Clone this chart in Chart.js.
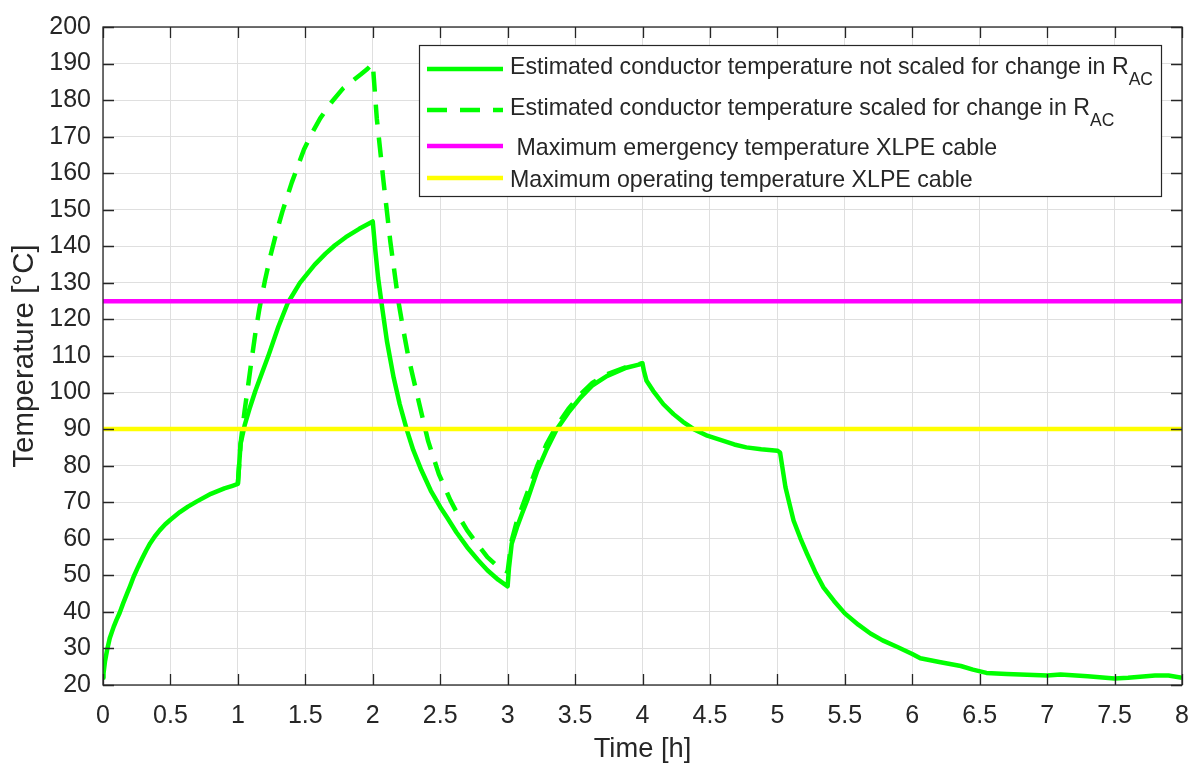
<!DOCTYPE html>
<html>
<head>
<meta charset="utf-8">
<script src="https://cdn.jsdelivr.net/npm/chart.js@4/dist/chart.umd.min.js"></script>
<style>
    body { margin: 0; background: #ffffff; }
    #wrap { width: 1190px; height: 763px; }
</style>
</head>
<body>
<div id="wrap"><canvas id="tempChart" width="1190" height="763"></canvas></div>
<script>
// Conductor temperature, not scaled for change in R_AC (time in h, temperature in degC)
const solidT = [0, 0.004, 0.015, 0.03, 0.05, 0.079, 0.1, 0.123, 0.15, 0.178, 0.2, 0.227, 0.26, 0.29, 0.32, 0.35, 0.385, 0.42, 0.46, 0.5, 0.57, 0.63, 0.7, 0.8, 0.9, 0.96, 1.0,
    1.02, 1.05, 1.09, 1.13, 1.18, 1.23, 1.3, 1.37, 1.46, 1.57, 1.65, 1.72, 1.8, 1.9, 2.0,
    2.02, 2.04, 2.07, 2.105, 2.155, 2.2, 2.255, 2.3, 2.36, 2.43, 2.5, 2.55, 2.62, 2.7, 2.78, 2.85, 2.93, 3.0,
    3.01, 3.03, 3.07, 3.11, 3.15, 3.22, 3.29, 3.365, 3.45, 3.54, 3.63, 3.735, 3.88, 3.98, 4.0,
    4.01, 4.03, 4.08, 4.155, 4.23, 4.3, 4.38, 4.48, 4.6, 4.68, 4.77, 4.88, 5.0,
    5.02, 5.06, 5.09, 5.12, 5.17, 5.22, 5.28, 5.34, 5.42, 5.5, 5.6, 5.69, 5.78, 5.89, 6.0, 6.06, 6.2, 6.36, 6.45, 6.55, 6.7,
    7.0, 7.1, 7.3, 7.5, 7.6, 7.8, 7.9, 8.0];
const solidV = [22, 23.2, 26.5, 29.5, 32.8, 35.9, 37.8, 39.7, 42.4, 45, 47, 49.6, 52.3, 54.6, 56.8, 58.8, 60.7, 62.3, 63.9, 65.2, 67.3, 68.8, 70.3, 72.3, 73.8, 74.5, 75,
    86, 91, 96, 100.5, 105.5, 110.5, 118, 124.5, 130, 135, 138, 140.3, 142.5, 144.8, 146.8,
    138.6, 131.3, 123.2, 114.1, 104.1, 96.8, 89.5, 84.3, 78.8, 73.2, 68.7, 65.9, 61.8, 57.7, 54.2, 51.4, 48.8, 47,
    52, 58.6, 63.2, 67.2, 71, 78.6, 84.5, 90, 94.5, 98.6, 102, 104.5, 106.8, 107.7, 108,
    106, 103.2, 100.4, 96.8, 94.1, 92, 90, 88.2, 86.8, 85.8, 85, 84.5, 84.1,
    83.6, 74.1, 69.5, 65, 60.2, 55.9, 51, 46.8, 43, 39.6, 36.5, 34.1, 32.2, 30.4, 28.5, 27.3, 26.3, 25.2, 24.2, 23.3, 23,
    22.6, 22.9, 22.4, 21.8, 22, 22.6, 22.6, 22];

// Conductor temperature, scaled for change in R_AC
const dashT = [1.0, 1.02, 1.05, 1.08, 1.1, 1.13, 1.16, 1.2, 1.24, 1.28, 1.33, 1.4, 1.45, 1.49, 1.55, 1.61, 1.7, 1.78, 1.85, 1.91, 1.96, 2.0,
    2.03, 2.08, 2.13, 2.19, 2.22, 2.26, 2.3, 2.34, 2.41, 2.49, 2.576, 2.64, 2.7, 2.78, 2.85, 2.945, 3.0,
    3.01, 3.03, 3.07, 3.15, 3.22, 3.29, 3.365, 3.45, 3.54, 3.63, 3.735, 3.88, 4.0];
const dashV = [75, 86, 95, 103, 108.5, 116.3, 123, 130.5, 137.2, 143, 149.5, 157.5, 162.5, 166.5, 171, 175, 179.7, 183.2, 185.3, 187, 188.5, 190,
    175, 157.7, 141.4, 125, 118.5, 110.5, 104, 97.7, 86.8, 77.7, 70.5, 66, 62.3, 58.3, 55, 51.8, 51,
    54, 59.5, 65, 73, 80, 86, 91, 95.5, 99.5, 102.7, 105, 107, 108];

// Cable temperature limits
const emergencyLimit = 125;
const operatingLimit = 90;
const timeRange = [0, 8];

const xTicks = [0, 0.5, 1, 1.5, 2, 2.5, 3, 3.5, 4, 4.5, 5, 5.5, 6, 6.5, 7, 7.5, 8];
const xTickLabels = ['0', '0.5', '1', '1.5', '2', '2.5', '3', '3.5', '4', '4.5', '5', '5.5', '6', '6.5', '7', '7.5', '8'];
const yTicks = [20, 30, 40, 50, 60, 70, 80, 90, 100, 110, 120, 130, 140, 150, 160, 170, 180, 190, 200];
const yTickLabels = ['20', '30', '40', '50', '60', '70', '80', '90', '100', '110', '120', '130', '140', '150', '160', '170', '180', '190', '200'];

const legendLabels = [
    ['Estimated conductor temperature not scaled for change in R', 'AC'],
    ['Estimated conductor temperature scaled for change in R', 'AC'],
    [' Maximum emergency temperature XLPE cable', ''],
    ['Maximum operating temperature XLPE cable', '']
];

const GREEN = '#00ff00';
const MAGENTA = '#ff00ff';
const YELLOW = '#ffff00';
const AXIS_COLOR = '#262626';
const FONT = '"Liberation Sans", Arial, sans-serif';

function toPoints(ts, vs) {
    return ts.map((t, i) => ({ x: t, y: vs[i] }));
}

// Box around the axes with inward tick marks (MATLAB style)
const axesBox = {
    id: 'axesBox',
    afterDatasetsDraw(chart) {
        const { ctx, chartArea: a, scales } = chart;
        ctx.save();
        ctx.strokeStyle = AXIS_COLOR;
        ctx.lineWidth = 1.3;
        ctx.beginPath();
        xTicks.forEach(v => {
            const x = Math.round(scales.x.getPixelForValue(v)) + 0.5;
            ctx.moveTo(x, a.bottom); ctx.lineTo(x, a.bottom - 11);
            ctx.moveTo(x, a.top); ctx.lineTo(x, a.top + 11);
        });
        yTicks.forEach(v => {
            const y = Math.round(scales.y.getPixelForValue(v)) + 0.5;
            ctx.moveTo(a.left, y); ctx.lineTo(a.left + 11, y);
            ctx.moveTo(a.right, y); ctx.lineTo(a.right - 11, y);
        });
        ctx.stroke();
        ctx.strokeRect(a.left, a.top, a.right - a.left, a.bottom - a.top);
        ctx.restore();
    }
};

// Legend box with subscripts
const boxLegend = {
    id: 'boxLegend',
    afterDraw(chart) {
        const ctx = chart.ctx;
        const styles = [
            { color: GREEN, dash: [] },
            { color: GREEN, dash: [20, 13] },
            { color: MAGENTA, dash: [] },
            { color: YELLOW, dash: [] }
        ];
        const lineY = [69, 110, 146, 178];
        const baseY = [74, 115, 155, 187];
        ctx.save();
        ctx.fillStyle = '#ffffff';
        ctx.fillRect(419, 45, 742, 151);
        ctx.strokeStyle = AXIS_COLOR;
        ctx.lineWidth = 1.2;
        ctx.strokeRect(419.5, 45.5, 742, 151);

        legendLabels.forEach((lbl, i) => {
            ctx.strokeStyle = styles[i].color;
            ctx.lineWidth = 4.5;
            ctx.setLineDash(styles[i].dash);
            ctx.beginPath();
            ctx.moveTo(427, lineY[i]);
            ctx.lineTo(503, lineY[i]);
            ctx.stroke();
            ctx.setLineDash([]);

            ctx.fillStyle = AXIS_COLOR;
            ctx.textAlign = 'left';
            ctx.textBaseline = 'alphabetic';
            ctx.font = '23.2px ' + FONT;
            ctx.fillText(lbl[0], 510, baseY[i]);
            if (lbl[1]) {
                const w = ctx.measureText(lbl[0]).width;
                ctx.font = '17.5px ' + FONT;
                ctx.fillText(lbl[1], 510 + w, baseY[i] + 11);
            }
        });
        ctx.restore();
    }
};

const ctx = document.getElementById('tempChart').getContext('2d');
const tempChart = new Chart(ctx, {
    type: 'line',
    data: {
        datasets: [{
            label: 'Estimated conductor temperature not scaled for change in R_AC',
            data: toPoints(solidT, solidV),
            borderColor: GREEN,
            borderWidth: 4.5,
            order: 3
        }, {
            label: 'Estimated conductor temperature scaled for change in R_AC',
            data: toPoints(dashT, dashV),
            borderColor: GREEN,
            borderWidth: 4.5,
            borderDash: [20, 13],
            order: 2
        }, {
            label: 'Maximum emergency temperature XLPE cable',
            data: toPoints(timeRange, [emergencyLimit, emergencyLimit]),
            borderColor: MAGENTA,
            borderWidth: 4.5,
            order: 1
        }, {
            label: 'Maximum operating temperature XLPE cable',
            data: toPoints(timeRange, [operatingLimit, operatingLimit]),
            borderColor: YELLOW,
            borderWidth: 4.5,
            order: 0
        }]
    },
    options: {
        responsive: false,
        animation: false,
        elements: {
            point: { radius: 0 },
            line: { tension: 0, borderJoinStyle: 'round', borderCapStyle: 'butt' }
        },
        layout: { padding: { top: 25, right: 8, left: 0, bottom: 0 } },
        scales: {
            x: {
                type: 'linear',
                min: 0,
                max: 8,
                afterBuildTicks: scale => { scale.ticks = xTicks.map(v => ({ value: v })); },
                afterFit: scale => {
                    scale.height = 78;
                    scale.paddingLeft = 0;
                    scale.paddingRight = 0;
                },
                ticks: {
                    autoSkip: false,
                    maxRotation: 0,
                    padding: 16,
                    color: AXIS_COLOR,
                    font: { family: FONT, size: 25 },
                    callback: (val, i) => xTickLabels[i]
                },
                grid: { color: '#dfdfdf', lineWidth: 1, drawTicks: false },
                border: { display: false },
                title: {
                    display: true,
                    text: 'Time [h]',
                    color: AXIS_COLOR,
                    font: { family: FONT, size: 27.3, lineHeight: 1 },
                    padding: { top: 0, bottom: 0 }
                }
            },
            y: {
                type: 'linear',
                min: 20,
                max: 200,
                afterBuildTicks: scale => { scale.ticks = yTicks.map(v => ({ value: v })); },
                afterFit: scale => { scale.width = 103; },
                ticks: {
                    padding: 12,
                    color: AXIS_COLOR,
                    font: { family: FONT, size: 25 },
                    callback: (val, i) => yTickLabels[i]
                },
                grid: { color: '#dfdfdf', lineWidth: 1, drawTicks: false },
                border: { display: false },
                title: {
                    display: true,
                    text: 'Temperature [°C]',
                    color: AXIS_COLOR,
                    font: { family: FONT, size: 29.5, lineHeight: 1 },
                    padding: { top: 10, bottom: 0 }
                }
            }
        },
        plugins: {
            legend: { display: false },
            tooltip: { enabled: false }
        }
    },
    plugins: [axesBox, boxLegend]
});
</script>
</body>
</html>
